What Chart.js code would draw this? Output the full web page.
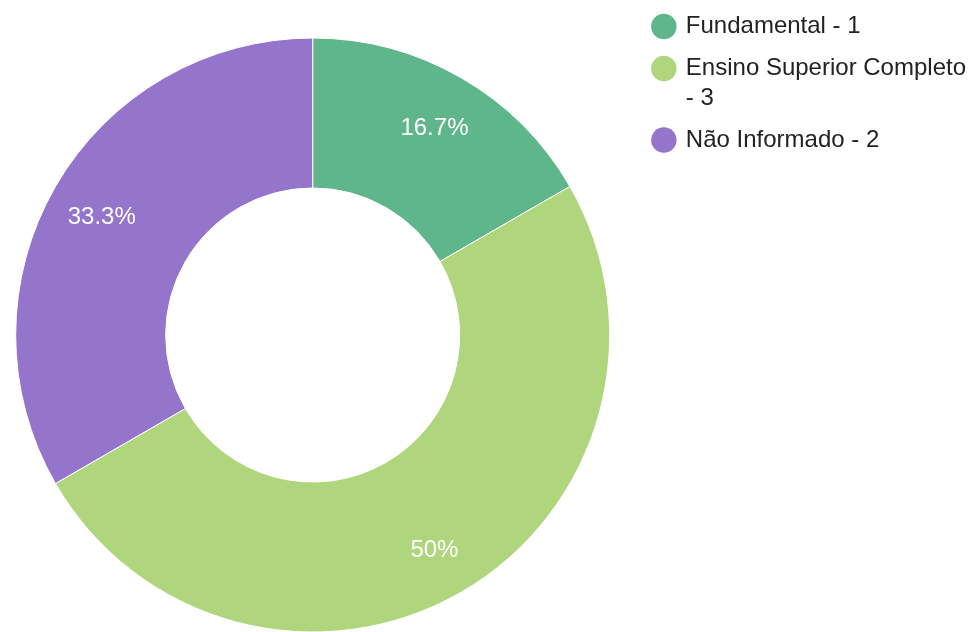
<!DOCTYPE html>
<html>
<head>
<meta charset="utf-8">
<script src="https://cdn.jsdelivr.net/npm/chart.js@4/dist/chart.umd.min.js"></script>
<style>
  html, body { margin: 0; background: #fff; overflow: hidden; }
  #page { width: 979px; height: 632px; position: relative; overflow: hidden; }
  #wrap { position: absolute; left: -16px; top: 0; width: 995px; height: 668px; }
</style>
</head>
<body>
<div id="page"><div id="wrap"><canvas id="escolaridadeChart"></canvas></div></div>
<script>
const categories = ['Fundamental', 'Ensino Superior Completo', 'Não Informado'];
const counts = [1, 3, 2];
const colors = ['#5fb68a', '#afd57d', '#9475cb'];

// legend text "Nome - n", long ones broken before the count
function legendText(name, n) {
  const full = name + ' - ' + n;
  if (full.length > 24) return [name, '- ' + n];
  return [full];
}

function pctText(v, total) {
  const p = Math.round(v / total * 1000) / 10;
  return p + '%';
}

// percent labels inside each slice
const sliceLabels = {
  id: 'sliceLabels',
  afterDatasetsDraw(chart) {
    const ctx = chart.ctx;
    const meta = chart.getDatasetMeta(0);
    const data = chart.data.datasets[0].data;
    const total = data.reduce((a, b) => a + b, 0);
    ctx.save();
    ctx.font = '24px "Liberation Sans", Arial, sans-serif';
    ctx.fillStyle = '#ffffff';
    ctx.textAlign = 'center';
    ctx.textBaseline = 'middle';
    meta.data.forEach(function(arc, i) {
      const p = arc.getProps(['x', 'y', 'startAngle', 'endAngle', 'outerRadius'], true);
      const mid = (p.startAngle + p.endAngle) / 2;
      const r = p.outerRadius * 0.82;
      ctx.fillText(pctText(data[i], total), p.x + Math.cos(mid) * r, p.y + Math.sin(mid) * r + 4);
    });
    ctx.restore();
  }
};

new Chart(document.getElementById('escolaridadeChart'), {
  type: 'doughnut',
  data: {
    labels: categories,
    datasets: [{
      data: counts,
      backgroundColor: colors,
      borderColor: '#ffffff',
      borderWidth: 1,
      radius: 297
    }]
  },
  options: {
    responsive: true,
    maintainAspectRatio: false,
    animation: false,
    cutout: '49.5%',
    layout: {
      padding: { left: 0, right: 3, top: 2, bottom: 0 }
    },
    plugins: {
      tooltip: { enabled: false },
      legend: {
        position: 'right',
        align: 'start',
        labels: {
          usePointStyle: true,
          pointStyle: 'circle',
          boxWidth: 20,
          boxHeight: 18,
          padding: 12.5,
          color: '#222222',
          font: { family: '"Liberation Sans", Arial, sans-serif', size: 24, lineHeight: 1.23 },
          generateLabels(chart) {
            const ds = chart.data.datasets[0];
            return chart.data.labels.map(function(name, i) {
              return {
                text: legendText(name, ds.data[i]),
                fillStyle: ds.backgroundColor[i],
                strokeStyle: ds.backgroundColor[i],
                lineWidth: 0,
                fontColor: '#222222',
                pointStyle: 'circle',
                hidden: false,
                index: i
              };
            });
          }
        }
      }
    }
  },
  plugins: [sliceLabels]
});
</script>
</body>
</html>
